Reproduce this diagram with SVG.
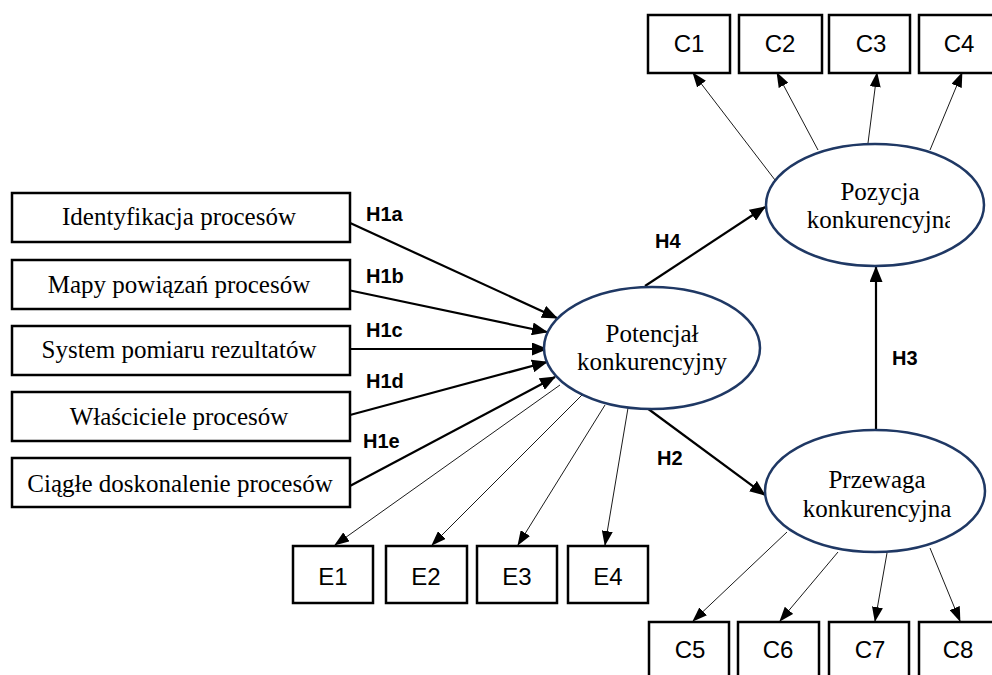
<svg xmlns="http://www.w3.org/2000/svg" width="992" height="675" viewBox="0 0 992 675">
<style>
.box{fill:#fff;stroke:#000;stroke-width:2.5}
.ell{fill:#fff;stroke:#1f3864;stroke-width:2.5}
.serif{font-family:"Liberation Serif","Times New Roman",serif;font-size:25px;fill:#000;text-anchor:middle}
.lbl{font-family:"Liberation Sans",Arial,sans-serif;font-size:24px;fill:#000;text-anchor:middle}
.h{font-family:"Liberation Sans",Arial,sans-serif;font-size:20px;font-weight:bold;fill:#000}
.thick{stroke:#000;stroke-width:2.2;fill:none;marker-end:url(#ah)}
.thin{stroke:#000;stroke-width:0.9;fill:none;marker-end:url(#at)}
</style>
<defs>
<marker id="ah" viewBox="0 0 16 13" refX="15" refY="6.5" markerWidth="16" markerHeight="13" markerUnits="userSpaceOnUse" orient="auto"><path d="M0,0 L16,6.5 L0,13 z" fill="#000"/></marker>
<marker id="at" viewBox="0 0 15 11" refX="14" refY="5.5" markerWidth="15" markerHeight="11" markerUnits="userSpaceOnUse" orient="auto"><path d="M0,0 L15,5.5 L0,11 z" fill="#000"/></marker>
<clipPath id="clipPoz"><rect x="760" y="140" width="190" height="130"/></clipPath>
</defs>
<rect width="992" height="675" fill="#fff"/>

<g id="connectors">
<line class="thick" x1="348" y1="222" x2="557" y2="318"/>
<line class="thick" x1="348" y1="290" x2="547" y2="332"/>
<line class="thick" x1="350" y1="349" x2="547" y2="349"/>
<line class="thick" x1="350" y1="415" x2="547" y2="362"/>
<line class="thick" x1="348" y1="487" x2="555" y2="377"/>
<line class="thick" x1="645" y1="286" x2="765" y2="207"/>
<line class="thick" x1="647" y1="408" x2="765" y2="495"/>
<line class="thick" x1="876" y1="430" x2="876" y2="267"/>
<line class="thin" x1="775" y1="180" x2="693" y2="73"/>
<line class="thin" x1="818" y1="150" x2="777" y2="73"/>
<line class="thin" x1="868" y1="143" x2="877" y2="73"/>
<line class="thin" x1="930" y1="150" x2="962" y2="73"/>
<line class="thin" x1="560" y1="385" x2="335" y2="545"/>
<line class="thin" x1="582" y1="395" x2="432" y2="545"/>
<line class="thin" x1="605" y1="405" x2="518" y2="545"/>
<line class="thin" x1="628" y1="408" x2="605" y2="545"/>
<line class="thin" x1="787" y1="532" x2="693" y2="621"/>
<line class="thin" x1="838" y1="552" x2="780" y2="621"/>
<line class="thin" x1="887" y1="553" x2="875" y2="621"/>
<line class="thin" x1="930" y1="548" x2="960" y2="621"/>
<text class="h" x="366" y="221">H1a</text>
<text class="h" x="366" y="283">H1b</text>
<text class="h" x="366" y="337">H1c</text>
<text class="h" x="366" y="388">H1d</text>
<text class="h" x="363" y="448">H1e</text>
<text class="h" x="655" y="248">H4</text>
<text class="h" x="657" y="465">H2</text>
<text class="h" x="892" y="365">H3</text>
</g>

<g id="n-identyfikacja"><rect class="box" x="12" y="193" width="338" height="49"/><text class="serif" x="179" y="225">Identyfikacja procesów</text></g>
<g id="n-mapy"><rect class="box" x="12" y="260" width="338" height="49"/><text class="serif" x="179" y="293">Mapy powiązań procesów</text></g>
<g id="n-system"><rect class="box" x="12" y="326" width="338" height="49"/><text class="serif" x="179" y="358">System pomiaru rezultatów</text></g>
<g id="n-wlasciciele"><rect class="box" x="12" y="392" width="338" height="49"/><text class="serif" x="179" y="425">Właściciele procesów</text></g>
<g id="n-ciagle"><rect class="box" x="12" y="458" width="338" height="49"/><text class="serif" x="180" y="492">Ciągłe doskonalenie procesów</text></g>

<g id="n-potencjal"><ellipse class="ell" cx="652" cy="348" rx="108" ry="61"/><text class="serif" x="652" y="342">Potencjał</text><text class="serif" x="652" y="370">konkurencyjny</text></g>
<g id="n-pozycja"><ellipse class="ell" cx="875" cy="205" rx="109" ry="61"/><g clip-path="url(#clipPoz)"><text class="serif" x="880" y="200">Pozycja</text><text class="serif" x="881" y="228">konkurencyjna</text></g></g>
<g id="n-przewaga"><ellipse class="ell" cx="875" cy="491" rx="110" ry="61"/><text class="serif" x="877" y="488">Przewaga</text><text class="serif" x="877" y="517">konkurencyjna</text></g>

<g id="n-c1"><rect class="box" x="648" y="15" width="82" height="58"/><text class="lbl" x="689" y="52">C1</text></g>
<g id="n-c2"><rect class="box" x="739" y="15" width="83" height="58"/><text class="lbl" x="780" y="52">C2</text></g>
<g id="n-c3"><rect class="box" x="829" y="15" width="81" height="58"/><text class="lbl" x="871" y="52">C3</text></g>
<g id="n-c4"><rect class="box" x="919" y="15" width="82" height="58"/><text class="lbl" x="959" y="52">C4</text></g>

<g id="n-e1"><rect class="box" x="293" y="546" width="80" height="57"/><text class="lbl" x="333" y="585">E1</text></g>
<g id="n-e2"><rect class="box" x="386" y="546" width="81" height="57"/><text class="lbl" x="426" y="585">E2</text></g>
<g id="n-e3"><rect class="box" x="477" y="546" width="80" height="57"/><text class="lbl" x="517" y="585">E3</text></g>
<g id="n-e4"><rect class="box" x="568" y="546" width="80" height="57"/><text class="lbl" x="608" y="585">E4</text></g>

<g id="n-c5"><rect class="box" x="649" y="622" width="80" height="60"/><text class="lbl" x="690" y="658">C5</text></g>
<g id="n-c6"><rect class="box" x="738" y="622" width="81" height="60"/><text class="lbl" x="778" y="658">C6</text></g>
<g id="n-c7"><rect class="box" x="829" y="622" width="80" height="60"/><text class="lbl" x="870" y="658">C7</text></g>
<g id="n-c8"><rect class="box" x="919" y="622" width="82" height="60"/><text class="lbl" x="958" y="658">C8</text></g>
</svg>
